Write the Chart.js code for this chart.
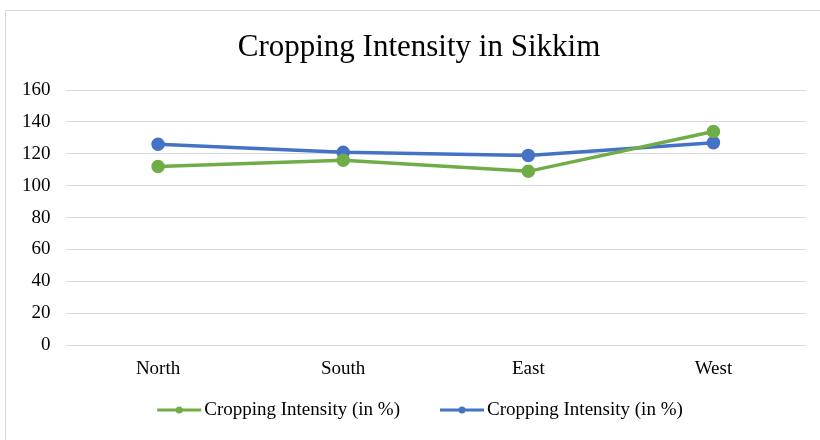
<!DOCTYPE html>
<html>
<head>
<meta charset="utf-8">
<script src="https://cdn.jsdelivr.net/npm/chart.js@4/dist/chart.umd.min.js"></script>
<style>
  html, body { margin: 0; padding: 0; background: #fff; }
  #frame {
    position: absolute; left: 5px; top: 10px; width: 820px; height: 440px;
    border-left: 1px solid #d9d9d9; border-top: 1px solid #d9d9d9;
  }
  #wrap { position: absolute; left: 0; top: 0; width: 820px; height: 440px; }
</style>
</head>
<body>
<div id="frame"></div>
<div id="wrap"><canvas id="chart"></canvas></div>
<script>
// data
const regions = ['North', 'South', 'East', 'West'];
const greenSeries = [112, 116, 109, 134];
const blueSeries = [126, 121, 119, 127];
const seriesLabel = 'Cropping Intensity (in %)';
const chartTitle = 'Cropping Intensity in Sikkim';
const yTicks = [0, 20, 40, 60, 80, 100, 120, 140, 160];

const GREEN = '#70ad47';
const BLUE = '#4472c4';
const FONT = '"Liberation Serif", "Times New Roman", serif';

// Excel-like title and legend (line with dot), drawn after the chart
const excelDecor = {
  id: 'excelDecor',
  afterDraw(chart) {
    const ctx = chart.ctx;
    ctx.save();
    ctx.fillStyle = '#000';
    ctx.textBaseline = 'middle';

    ctx.font = '31px ' + FONT;
    ctx.textAlign = 'center';
    ctx.fillText(chartTitle, 419, 48);

    ctx.font = '19px ' + FONT;
    ctx.textAlign = 'left';
    const lineLen = 44, textGap = 3, itemGap = 40, y = 410;
    const items = chart.data.datasets.map(ds => ({
      color: ds.borderColor,
      text: ds.label,
      w: lineLen + textGap + ctx.measureText(ds.label).width
    }));
    const total = items.reduce((s, it) => s + it.w, 0) + itemGap * (items.length - 1);
    let x = 420 - total / 2;
    items.forEach(it => {
      ctx.strokeStyle = it.color;
      ctx.fillStyle = it.color;
      ctx.lineWidth = 3;
      ctx.beginPath();
      ctx.moveTo(x, y); ctx.lineTo(x + lineLen, y);
      ctx.stroke();
      ctx.beginPath();
      ctx.arc(x + lineLen / 2, y, 3.5, 0, Math.PI * 2);
      ctx.fill();
      ctx.fillStyle = '#000';
      ctx.fillText(it.text, x + lineLen + textGap, y);
      x += it.w + itemGap;
    });
    ctx.restore();
  }
};

new Chart(document.getElementById('chart'), {
  type: 'line',
  data: {
    labels: regions,
    datasets: [
      {
        label: seriesLabel,
        data: greenSeries,
        borderColor: GREEN,
        backgroundColor: GREEN,
        borderWidth: 3.5,
        pointRadius: 5,
        pointBackgroundColor: GREEN,
        pointBorderColor: GREEN,
        tension: 0
      },
      {
        label: seriesLabel,
        data: blueSeries,
        borderColor: BLUE,
        backgroundColor: BLUE,
        borderWidth: 3.5,
        pointRadius: 5,
        pointBackgroundColor: BLUE,
        pointBorderColor: BLUE,
        tension: 0
      }
    ]
  },
  options: {
    responsive: true,
    maintainAspectRatio: false,
    animation: false,
    layout: { padding: { left: 7, right: 14, top: 90, bottom: 48 } },
    scales: {
      x: {
        offset: true,
        grid: { display: false, drawTicks: false },
        border: { display: false },
        ticks: { color: '#000', font: { family: FONT, size: 19 }, padding: 12 }
      },
      y: {
        min: 0,
        max: 160,
        afterBuildTicks: (axis) => { axis.ticks = yTicks.map(v => ({ value: v })); },
        grid: { color: '#d9d9d9', lineWidth: 1, drawTicks: false },
        border: { display: false },
        ticks: { color: '#000', font: { family: FONT, size: 19 }, padding: 15 }
      }
    },
    plugins: {
      title: { display: false },
      legend: { display: false },
      tooltip: { enabled: false }
    }
  },
  plugins: [excelDecor]
});
</script>
</body>
</html>
